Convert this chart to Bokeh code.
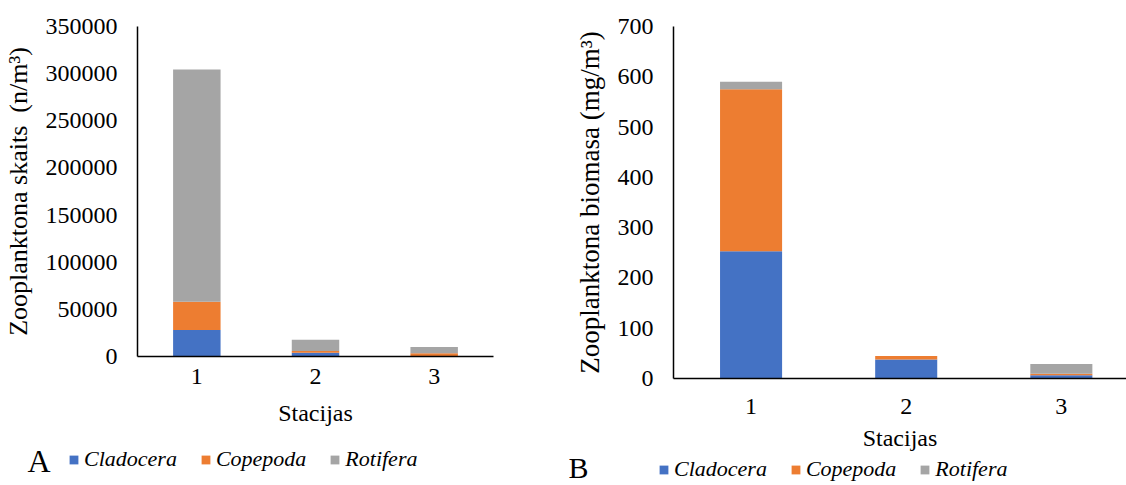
from bokeh.plotting import figure
from bokeh.layouts import row, column
from bokeh.models import (Range1d, FixedTicker, ColumnDataSource, Legend, LegendItem,
                          Label, NumeralTickFormatter)
from bokeh.embed import file_html
from bokeh.resources import INLINE

# ---- data ----
stations = ["1", "2", "3"]
station_x = [1, 2, 3]
groups = ["Cladocera", "Copepoda", "Rotifera"]
colors = ["#4472C4", "#ED7D31", "#A5A5A5"]

# A: abundance (n/m3)
count_cladocera = [28000, 4000, 500]
count_copepoda = [30000, 1800, 3000]
count_rotifera = [246500, 12000, 6600]

# B: biomass (mg/m3)
bio_cladocera = [253, 38, 6.4]
bio_copepoda = [322, 6.5, 3.2]
bio_rotifera = [15, 0.3, 19.3]

FONT = "Liberation Serif"


def style(p, y_label, tick_standoff, xlab_standoff, ylab_standoff, ylab_size):
    p.outline_line_color = None
    p.xgrid.visible = False
    p.ygrid.visible = False
    for ax in (p.xaxis[0], p.yaxis[0]):
        ax.axis_line_color = "#000000"
        ax.axis_line_width = 1.5
        ax.major_tick_line_color = None
        ax.minor_tick_line_color = None
        ax.major_tick_out = 0
        ax.major_tick_in = 0
        ax.major_label_text_font = FONT
        ax.major_label_text_font_size = "24px"
        ax.major_label_text_color = "#000000"
        ax.axis_label_text_font = FONT
        ax.axis_label_text_font_size = "24px"
        ax.axis_label_text_font_style = "normal"
        ax.axis_label_text_color = "#000000"
    p.xaxis.ticker = FixedTicker(ticks=station_x)
    p.xaxis.major_label_overrides = {x: s for x, s in zip(station_x, stations)}
    p.xaxis.axis_label = "Stacijas"
    p.xaxis.major_label_standoff = tick_standoff
    p.xaxis.axis_label_standoff = xlab_standoff
    p.yaxis.axis_label = y_label
    p.yaxis.axis_label_text_font_size = ylab_size
    p.yaxis.major_label_standoff = 20
    p.yaxis.axis_label_standoff = ylab_standoff
    p.yaxis.formatter = NumeralTickFormatter(format="0")


# ---- chart A ----
srcA = ColumnDataSource(dict(x=station_x, Cladocera=count_cladocera,
                             Copepoda=count_copepoda, Rotifera=count_rotifera))
pA = figure(frame_width=356, frame_height=330, x_range=Range1d(0.5, 3.5),
            y_range=Range1d(0, 350000), output_backend="svg", toolbar_location=None,
            min_border_left=137, min_border_right=67, min_border_top=25,
            min_border_bottom=90)
pA.vbar_stack(groups, x="x", width=0.4, color=colors, line_color=None, source=srcA)
style(pA, "Zooplanktona skaits\u00a0 (n/m³)", 12, 13, 10, "26px")
pA.yaxis.ticker = FixedTicker(ticks=list(range(0, 350001, 50000)))

# ---- chart B ----
srcB = ColumnDataSource(dict(x=station_x, Cladocera=bio_cladocera,
                             Copepoda=bio_copepoda, Rotifera=bio_rotifera))
pB = figure(frame_width=453, frame_height=352, x_range=Range1d(0.5, 3.42),
            y_range=Range1d(0, 700), output_backend="svg", toolbar_location=None,
            min_border_left=113, min_border_right=0, min_border_top=26,
            min_border_bottom=86)
pB.vbar_stack(groups, x="x", width=0.4, color=colors, line_color=None, source=srcB)
style(pB, "Zooplanktona biomasa (mg/m³)", 20, 8, 10, "27px")
pB.yaxis.ticker = FixedTicker(ticks=list(range(0, 701, 100)))

# ---- legend strip (A and B), transparent, overlapping the bottom of the charts ----
LEG_H = 60
leg = figure(width=1126, height=LEG_H, x_range=Range1d(100, 101), y_range=Range1d(0, 1),
             x_axis_type=None, y_axis_type=None, output_backend="svg",
             toolbar_location=None, min_border=0, margin=(-39, 0, 0, 0))
leg.outline_line_color = None
leg.background_fill_color = None
leg.border_fill_color = None
leg.xgrid.visible = False
leg.ygrid.visible = False


def add_legend(src, letter, leg_x, center_from_top, letter_x, letter_center, letter_size):
    rs = leg.vbar_stack(groups, x="x", width=0.4, color=colors, line_color=None,
                        source=src, visible=False)
    items = [LegendItem(label=g, renderers=[r]) for g, r in zip(groups, rs)]
    h = 24
    lg = Legend(items=items, orientation="horizontal",
                location=(leg_x, LEG_H - center_from_top - h / 2),
                glyph_width=11, glyph_height=11, label_standoff=5, spacing=23,
                padding=0, margin=0, border_line_color=None, background_fill_alpha=0,
                inactive_fill_alpha=0,
                label_text_font=FONT, label_text_font_style="italic",
                label_text_font_size="22px", label_text_color="#000000",
                label_height=h)
    leg.add_layout(lg)
    leg.add_layout(Label(x=letter_x, y=LEG_H - letter_center, x_units="screen",
                         y_units="screen", text=letter, text_font=FONT,
                         text_font_size=letter_size, text_baseline="middle",
                         text_color="#000000"))


# strip top sits at y = 425 in the page
add_legend(srcA, "A", 68, 35, 27, 35, "32px")
add_legend(srcB, "B", 658, 45, 568, 42, "30px")

layout = column(row(pA, pB), leg)
open("out.html", "w").write(file_html(layout, INLINE))
